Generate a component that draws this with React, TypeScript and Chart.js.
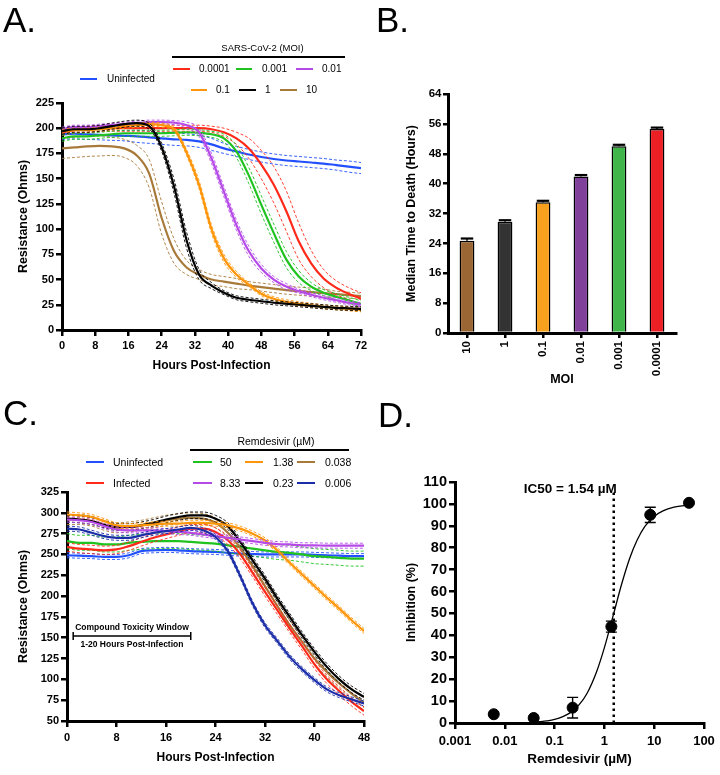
import React, { useEffect, useRef } from 'react';
import { Chart, registerables } from 'chart.js';

Chart.register(...registerables);

const FONT = '"Liberation Sans", Arial, Helvetica, sans-serif';

// ---------------- Panel A data (Resistance vs hours, MOI series) ----------------
const A_HOURS = [0, 3, 6, 9, 12, 15, 18, 21, 24, 27, 30, 33, 36, 39, 42, 45, 48, 51, 54, 57, 60, 63, 66, 69, 72];
const A_UNINF = [194, 194.5, 194, 193.5, 193, 192.5, 192, 191, 190, 189, 188.5, 187, 184, 180, 177, 174, 171.5, 169.5, 168, 167, 166, 165, 163.5, 162, 160.5];
const A_UNINF_SD = [5, 5, 5, 5, 5, 5, 6, 6, 6, 6, 6, 6, 6, 5, 5, 5, 5, 5, 5, 5, 5, 5, 5, 5.5, 5.5];
const A_MOI_0001 = [196, 198, 199, 199.5, 200, 200, 200, 200, 200, 200, 200, 200, 199, 196, 190, 180, 164, 144, 118, 88, 66, 51, 42, 36, 31];
const A_MOI_0001_SD = [3, 3, 3, 3, 3, 3, 3, 3, 3, 3, 3, 3, 3, 4, 6, 10, 14, 18, 20, 18, 13, 9, 7, 6, 6];
const A_MOI_001 = [190, 192, 192, 193, 194, 195, 195, 195, 195, 195.5, 196, 195.5, 194, 190, 177, 153, 124, 96, 70, 53, 43, 37, 33, 29.5, 26];
const A_MOI_001_SD = [3, 3, 3, 3, 3, 3, 3, 3, 3, 3, 3, 3, 3, 4, 6, 8, 9, 9, 8, 6, 4, 3, 3, 3, 3];
const A_MOI_01 = [199, 201, 201, 202, 203, 204, 205, 206, 206, 205.5, 203, 196, 170, 137, 104, 78, 61, 50, 43, 38.5, 35, 32, 29.5, 27, 25];
const A_MOI_01_SD = [2, 2, 2, 2, 2, 2, 2, 2, 2, 2, 3, 4, 5, 5, 5, 5, 4, 3, 3, 2, 2, 2, 2, 2, 2];
const A_MOI_1E1 = [197, 198, 198, 199, 200, 202, 203, 204, 203, 199, 176, 144, 100, 71, 55, 45, 36, 31, 28, 26, 24.5, 23, 22, 21, 20];
const A_MOI_1E1_SD = [2, 2, 2, 2, 2, 2, 2, 2, 2, 2, 3, 4, 4, 4, 3, 2, 2, 2, 2, 2, 2, 2, 2, 2, 2];
const A_MOI_1 = [197, 199, 199, 200, 202, 204, 205, 202, 181, 142, 89, 55, 44, 37, 32, 30, 28.5, 27, 26, 25, 24, 23, 22, 21.5, 21];
const A_MOI_1_SD = [3, 3, 3, 3, 3, 3, 3, 3, 4, 7, 8, 5, 3, 2, 2, 2, 2, 2, 2, 2, 2, 2, 2, 2, 2];
const A_MOI_10 = [180, 181, 182, 182.5, 182, 180, 173, 155, 111, 78, 62, 55, 50, 48, 46, 44, 42.5, 41, 39.5, 38.5, 37.5, 36.5, 35.5, 34.5, 33.5];
const A_MOI_10_SD = [10, 10, 10, 10, 9, 9, 10, 14, 16, 12, 7, 5, 5, 5, 5, 4, 4, 4, 4, 4, 4, 4, 3, 3, 3];

const COL_BLUE = '#2350ff';
const COL_RED = '#ff2a1a';
const COL_GREEN = '#1fc21f';
const COL_PURPLE = '#b64ae8';
const COL_ORANGE = '#ff9508';
const COL_BLACK = '#000000';
const COL_BROWN = '#a87a3a';
const COL_NAVY = '#1b2ea8';

// ---------------- Panel B data ----------------
const B_MOI = ['10', '1', '0.1', '0.01', '0.001', '0.0001'];
const B_MTD = [24.7, 29.8, 35.0, 41.9, 50.0, 54.6];
const B_ERR = [0.6, 0.4, 0.4, 0.4, 0.4, 0.4];
const B_COLORS = ['#9a6633', '#333333', '#f7a11e', '#7f4199', '#40b64a', '#eb1f24'];

// ---------------- Panel C data (Remdesivir series) ----------------
const C_HOURS = [0, 2, 4, 6, 8, 10, 12, 14, 16, 18, 20, 22, 24, 26, 28, 30, 32, 34, 36, 38, 40, 42, 44, 46, 48];
const C_UNINF = [249, 248.5, 248, 247, 247, 249, 254, 255, 255.5, 255, 254, 253.5, 253, 252, 251, 250.5, 250, 250, 250, 250, 249.5, 249, 248.5, 248, 248];
const C_INF = [259, 257, 256, 255, 256, 260, 265, 270, 274, 278, 281, 281, 277, 267, 250, 228, 205, 183, 161, 140, 118, 100, 86, 73, 62];
const C_R50 = [266, 264, 264, 262, 262, 264, 265, 266, 266, 266, 265, 264, 263, 261, 259, 257, 255, 253, 252, 250, 248, 247, 246, 245, 245];
const C_R833 = [292, 291, 289, 284, 280, 279, 279, 279, 278, 277, 276, 274, 272, 270, 268, 266, 264, 262.5, 262, 261, 261, 260.5, 260.5, 260.5, 260.5];
const C_R138 = [298, 297, 295, 290, 285, 284, 285, 286, 287, 287, 288, 288, 287, 285, 281, 275, 267, 255, 240, 226, 212, 198, 185, 171, 158];
const C_R023 = [293, 292, 290, 286, 283, 283, 285, 288, 292, 295, 297, 297, 293, 284, 265, 243, 221, 197, 175, 153, 133, 115, 100, 88, 79];
const C_R0038 = [292, 292, 290, 285, 282, 283, 285, 288, 291, 293, 294, 293, 288, 276, 258, 236, 212, 188, 165, 145, 125, 109, 95, 83, 72];
const C_R0006 = [281, 280, 276, 272, 270, 270, 273, 276, 278, 280, 282, 279, 271, 254, 224, 191, 165, 146, 127, 112, 99, 88, 81, 76, 71];
const C_SD = [3, 5, 9, 3, 3, 4, 6, 3]; // uninf, inf, 50, 8.33, 1.38, 0.23, 0.038, 0.006
const C_TOX_WINDOW = [1, 20];
const C_TOX_LEVEL = 152;

// ---------------- Panel D data ----------------
const D_CONC = [0.006, 0.038, 0.23, 1.38, 8.33, 50];
const D_INHIB = [4, 2.3, 7, 44, 95, 100.5];
const D_ERR = [0, 0, 4.7, 2.5, 3.5, 0];
const D_FIT_X = [0.035, 0.05, 0.07, 0.1, 0.15, 0.2, 0.3, 0.45, 0.7, 1.0, 1.54, 2.2, 3.2, 4.5, 6.5, 10, 15, 25, 50];
const D_FIT_Y = [0.3, 0.6, 0.96, 1.6, 3.0, 4.5, 7.9, 13.6, 23.5, 34.4, 50, 63.1, 75.0, 83.3, 89.7, 94.3, 96.8, 98.5, 99.5];
const D_IC50 = 1.54;
const D_IC50_TOP = 106;
const D_XTICKS = [0.001, 0.01, 0.1, 1, 10, 100];

// ---------------- helpers ----------------
function bandSets(xs: number[], series: any[]) {
  const out: any[] = [];
  const mk = (ys: number[]) => xs.map((x, i) => ({ x, y: ys[i] }));
  series.forEach((s) => {
    const sd = (i: number) => (Array.isArray(s.sd) ? s.sd[i] : s.sd);
    const common = { pointRadius: 0, fill: false, cubicInterpolationMode: 'monotone', borderColor: s.color };
    out.push({ ...common, data: mk(s.mean), borderWidth: 2.2 });
    out.push({ ...common, data: mk(s.mean.map((v: number, i: number) => v + sd(i))), borderWidth: 0.9, borderDash: [3, 2] });
    out.push({ ...common, data: mk(s.mean.map((v: number, i: number) => v - sd(i))), borderWidth: 0.9, borderDash: [3, 2] });
  });
  return out;
}

const gridStyle = {
  display: true,
  drawOnChartArea: false,
  drawTicks: true,
  tickLength: 6,
  tickWidth: 2.5,
  tickColor: '#000',
  color: '#000',
  lineWidth: 2.5,
};
const borderStyle = { display: true, color: '#000', width: 3 };
const tickFont = (size: number) => ({ family: FONT, weight: 'bold' as const, size });
const titleFont = (size: number) => ({ family: FONT, weight: 'bold' as const, size });

function linAxis(o: any) {
  return {
    type: o.type || 'linear',
    min: o.min,
    max: o.max,
    afterFit: (s: any) => {
      if (o.h) s.height = o.h;
      if (o.w) s.width = o.w;
    },
    ticks: {
      stepSize: o.step,
      font: tickFont(o.tickSize),
      color: '#000',
      padding: o.tickPad,
      autoSkip: false,
      maxRotation: o.rot || 0,
      minRotation: o.rot || 0,
      ...(o.ticks || {}),
    },
    grid: { ...gridStyle, ...(o.grid || {}) },
    border: borderStyle,
    title: { display: true, text: o.title, font: titleFont(o.titleSize), color: '#000', padding: o.titlePad },
    ...(o.extra || {}),
  };
}

const baseOptions = (padding: any, scales: any) => ({
  responsive: false,
  maintainAspectRatio: false,
  animation: false,
  devicePixelRatio: 1,
  layout: { padding },
  plugins: { legend: { display: false }, tooltip: { enabled: false } },
  events: [],
  scales,
});

// ---------------- plugins ----------------
const bErrPlugin = {
  id: 'bErr',
  afterDatasetsDraw(chart: any) {
    const { ctx } = chart;
    const y = chart.scales.y;
    const meta = chart.getDatasetMeta(0);
    ctx.save();
    ctx.strokeStyle = '#000';
    ctx.lineWidth = 1.5;
    meta.data.forEach((el: any, i: number) => {
      const top = y.getPixelForValue(B_MTD[i] + B_ERR[i]);
      const mid = y.getPixelForValue(B_MTD[i]);
      const half = el.width * 0.42;
      ctx.beginPath();
      ctx.moveTo(el.x, mid);
      ctx.lineTo(el.x, top);
      ctx.stroke();
      ctx.lineWidth = 2.2;
      ctx.beginPath();
      ctx.moveTo(el.x - half, top);
      ctx.lineTo(el.x + half, top);
      ctx.stroke();
      ctx.lineWidth = 1.5;
    });
    ctx.restore();
  },
};

const cToxPlugin = {
  id: 'cTox',
  afterDatasetsDraw(chart: any) {
    const { ctx } = chart;
    const x = chart.scales.x;
    const y = chart.scales.y;
    const x1 = x.getPixelForValue(C_TOX_WINDOW[0]);
    const x2 = x.getPixelForValue(C_TOX_WINDOW[1]);
    const yy = y.getPixelForValue(C_TOX_LEVEL);
    ctx.save();
    ctx.strokeStyle = '#000';
    ctx.lineWidth = 1.5;
    ctx.beginPath();
    ctx.moveTo(x1, yy);
    ctx.lineTo(x2, yy);
    ctx.moveTo(x1, yy - 4);
    ctx.lineTo(x1, yy + 4);
    ctx.moveTo(x2, yy - 4);
    ctx.lineTo(x2, yy + 4);
    ctx.stroke();
    ctx.fillStyle = '#000';
    ctx.font = `bold 8.5px ${FONT}`;
    ctx.textAlign = 'center';
    ctx.textBaseline = 'middle';
    ctx.fillText('Compound Toxicity Window', (x1 + x2) / 2, yy - 8);
    ctx.fillText('1-20 Hours Post-Infection', (x1 + x2) / 2, yy + 8.5);
    ctx.restore();
  },
};

const dPlugin = {
  id: 'dExtra',
  beforeDatasetsDraw(chart: any) {
    const { ctx } = chart;
    const x = chart.scales.x;
    const y = chart.scales.y;
    ctx.save();
    ctx.strokeStyle = '#000';
    ctx.lineWidth = 1.4;
    D_CONC.forEach((c, i) => {
      if (!D_ERR[i]) return;
      const px = x.getPixelForValue(c);
      const t = y.getPixelForValue(D_INHIB[i] + D_ERR[i]);
      const b = y.getPixelForValue(D_INHIB[i] - D_ERR[i]);
      ctx.beginPath();
      ctx.moveTo(px, t);
      ctx.lineTo(px, b);
      ctx.moveTo(px - 5.5, t);
      ctx.lineTo(px + 5.5, t);
      ctx.moveTo(px - 5.5, b);
      ctx.lineTo(px + 5.5, b);
      ctx.stroke();
    });
    ctx.restore();
  },
  afterDatasetsDraw(chart: any) {
    const { ctx } = chart;
    const x = chart.scales.x;
    const y = chart.scales.y;
    ctx.save();
    ctx.fillStyle = '#000';
    ctx.font = `bold 13.5px ${FONT}`;
    ctx.textAlign = 'right';
    ctx.textBaseline = 'middle';
    ctx.fillText('IC50 = 1.54 µM', x.getPixelForValue(D_IC50) + 3, y.getPixelForValue(D_IC50_TOP + 0.5));
    ctx.restore();
  },
};

// ---------------- small HTML pieces ----------------
function Txt(p: { x: number; y: number; text: string; size: number; center?: boolean; bold?: boolean }) {
  return (
    <div
      style={{
        position: 'absolute',
        left: p.x,
        top: p.y - 7,
        lineHeight: '14px',
        height: 14,
        fontSize: p.size,
        fontFamily: FONT,
        fontWeight: p.bold ? 'bold' : 'normal',
        whiteSpace: 'nowrap',
        color: '#000',
        transform: p.center ? 'translateX(-50%)' : undefined,
      }}
    >
      {p.text}
    </div>
  );
}

function Item(p: { x1: number; x2: number; y: number; color: string; label: string; tx: number; size: number }) {
  return (
    <>
      <div style={{ position: 'absolute', left: p.x1, top: p.y - 1.25, width: p.x2 - p.x1, height: 2.5, background: p.color }} />
      <Txt x={p.tx} y={p.y} text={p.label} size={p.size} />
    </>
  );
}

function PanelLetter(p: { x: number; baseline: number; text: string }) {
  return (
    <div
      style={{
        position: 'absolute',
        left: p.x,
        top: p.baseline - 29.6,
        fontSize: 35,
        lineHeight: '35px',
        fontFamily: FONT,
        color: '#000',
      }}
    >
      {p.text}
    </div>
  );
}

export default function App() {
  const refA = useRef<HTMLCanvasElement>(null);
  const refB = useRef<HTMLCanvasElement>(null);
  const refC = useRef<HTMLCanvasElement>(null);
  const refD = useRef<HTMLCanvasElement>(null);

  useEffect(() => {
    Chart.defaults.font.family = FONT;
    const charts: any[] = [];

    // ---------- A ----------
    const aSeries = [
      { color: COL_BLACK, mean: A_MOI_1, sd: A_MOI_1_SD },
      { color: COL_ORANGE, mean: A_MOI_1E1, sd: A_MOI_1E1_SD },
      { color: COL_PURPLE, mean: A_MOI_01, sd: A_MOI_01_SD },
      { color: COL_GREEN, mean: A_MOI_001, sd: A_MOI_001_SD },
      { color: COL_RED, mean: A_MOI_0001, sd: A_MOI_0001_SD },
      { color: COL_BROWN, mean: A_MOI_10, sd: A_MOI_10_SD },
      { color: COL_BLUE, mean: A_UNINF, sd: A_UNINF_SD },
    ];
    charts.push(
      new Chart(refA.current as any, {
        type: 'line',
        data: { datasets: bandSets(A_HOURS, aSeries) },
        options: baseOptions(
          { left: 0, top: 103, right: 359, bottom: 395 },
          {
            x: linAxis({ min: 0, max: 72, step: 8, h: 50, tickSize: 11, tickPad: 3.5, title: 'Hours Post-Infection', titleSize: 12, titlePad: { top: 0, bottom: 6.8 } }),
            y: linAxis({ min: 0, max: 225, step: 25, w: 62, tickSize: 11, tickPad: 2, title: 'Resistance (Ohms)', titleSize: 12.5, titlePad: { top: 16.5, bottom: 0 } }),
          }
        ) as any,
      })
    );

    // ---------- B ----------
    charts.push(
      new Chart(refB.current as any, {
        type: 'bar',
        data: {
          labels: B_MOI,
          datasets: [
            {
              data: B_MTD,
              backgroundColor: B_COLORS,
              borderColor: '#000',
              borderWidth: 1.5,
              barPercentage: 0.39,
              categoryPercentage: 1,
            },
          ],
        },
        options: baseOptions(
          { left: 370, top: 94, right: 44, bottom: 380 },
          {
            x: linAxis({ type: 'category', h: 62, tickSize: 11.5, tickPad: 3, rot: 90, title: 'MOI', titleSize: 12.5, titlePad: { top: 0, bottom: 7.5 }, grid: { offset: false, tickLength: 5 }, extra: { offset: true } }),
            y: linAxis({ min: 0, max: 64, step: 8, w: 78, tickSize: 11.5, tickPad: 1.5, title: 'Median Time to Death (Hours)', titleSize: 12.5, titlePad: { top: 34, bottom: 0 }, grid: { tickLength: 5 } }),
          }
        ) as any,
        plugins: [bErrPlugin as any],
      })
    );

    // ---------- C ----------
    const cSeries = [
      { color: COL_NAVY, mean: C_R0006, sd: C_SD[7] },
      { color: COL_PURPLE, mean: C_R833, sd: C_SD[3] },
      { color: COL_ORANGE, mean: C_R138, sd: C_SD[4] },
      { color: COL_BLACK, mean: C_R023, sd: C_SD[5] },
      { color: COL_RED, mean: C_INF, sd: C_SD[1] },
      { color: COL_BROWN, mean: C_R0038, sd: C_SD[6] },
      { color: COL_GREEN, mean: C_R50, sd: C_SD[2] },
      { color: COL_BLUE, mean: C_UNINF, sd: C_SD[0] },
    ];
    charts.push(
      new Chart(refC.current as any, {
        type: 'line',
        data: { datasets: bandSets(C_HOURS, cSeries) },
        options: baseOptions(
          { left: 0, top: 492, right: 356, bottom: 5 },
          {
            x: linAxis({ min: 0, max: 48, step: 8, h: 49, tickSize: 11, tickPad: 4.4, title: 'Hours Post-Infection', titleSize: 12, titlePad: { top: 0, bottom: 4.8 } }),
            y: linAxis({ min: 50, max: 325, step: 25, w: 67, tickSize: 11, tickPad: 2, title: 'Resistance (Ohms)', titleSize: 12.5, titlePad: { top: 16.5, bottom: 0 } }),
          }
        ) as any,
        plugins: [cToxPlugin as any],
      })
    );

    // ---------- D ----------
    charts.push(
      new Chart(refD.current as any, {
        type: 'line',
        data: {
          datasets: [
            {
              data: D_CONC.map((c, i) => ({ x: c, y: D_INHIB[i] })),
              showLine: false,
              pointRadius: 5.5,
              pointBackgroundColor: '#000',
              pointBorderColor: '#000',
              borderColor: '#000',
              clip: false,
            },
            {
              data: D_FIT_X.map((c, i) => ({ x: c, y: D_FIT_Y[i] })),
              pointRadius: 0,
              borderColor: '#000',
              borderWidth: 1.3,
              cubicInterpolationMode: 'monotone',
              fill: false,
            },
            {
              data: [
                { x: D_IC50, y: 0 },
                { x: D_IC50, y: D_IC50_TOP },
              ],
              pointRadius: 0,
              borderColor: '#000',
              borderWidth: 2.5,
              borderDash: [2.5, 3.5],
              fill: false,
            },
          ],
        },
        options: baseOptions(
          { left: 380, top: 482, right: 16, bottom: 2 },
          {
            x: linAxis({
              type: 'logarithmic',
              min: 0.001,
              max: 100,
              h: 50,
              tickSize: 13,
              tickPad: 4.9,
              title: 'Remdesivir (µM)',
              titleSize: 13.5,
              titlePad: { top: 0, bottom: 5.5 },
              ticks: { callback: (v: any) => String(Number(v)) },
              extra: {
                afterBuildTicks: (s: any) => {
                  s.ticks = D_XTICKS.map((v) => ({ value: v, major: true }));
                },
              },
            }),
            y: linAxis({ min: 0, max: 110, step: 10, w: 75, tickSize: 14.5, tickPad: 2, title: 'Inhibition (%)', titleSize: 12.5, titlePad: { top: 24, bottom: 0 } }),
          }
        ) as any,
        plugins: [dPlugin as any],
      })
    );

    return () => charts.forEach((c) => c.destroy());
  }, []);

  const canvasStyle: React.CSSProperties = { position: 'absolute', left: 0, top: 0, width: 720, height: 775 };

  return (
    <div style={{ position: 'absolute', left: 0, top: 0, width: 720, height: 775, overflow: 'hidden', background: '#fff' }}>
      <canvas ref={refA} width={720} height={775} style={canvasStyle} />
      <canvas ref={refB} width={720} height={775} style={canvasStyle} />
      <canvas ref={refC} width={720} height={775} style={canvasStyle} />
      <canvas ref={refD} width={720} height={775} style={canvasStyle} />

      <PanelLetter x={3} baseline={32} text="A." />
      <PanelLetter x={376} baseline={32} text="B." />
      <PanelLetter x={3} baseline={425} text="C." />
      <PanelLetter x={378} baseline={427} text="D." />

      {/* Panel A legend */}
      <Txt x={262.5} y={48} text="SARS-CoV-2 (MOI)" size={9.5} center />
      <div style={{ position: 'absolute', left: 172, top: 56, width: 173, height: 1.5, background: '#000' }} />
      <Item x1={80} x2={97} y={79} color={COL_BLUE} label="Uninfected" tx={107} size={10} />
      <Item x1={173} x2={190} y={69} color={COL_RED} label="0.0001" tx={199} size={10} />
      <Item x1={236} x2={252} y={69} color={COL_GREEN} label="0.001" tx={262} size={10} />
      <Item x1={296} x2={313} y={69} color={COL_PURPLE} label="0.01" tx={322} size={10} />
      <Item x1={191} x2={207} y={90} color={COL_ORANGE} label="0.1" tx={216} size={10} />
      <Item x1={239} x2={256} y={90} color={COL_BLACK} label="1" tx={265} size={10} />
      <Item x1={280} x2={297} y={90} color={COL_BROWN} label="10" tx={306} size={10} />

      {/* Panel C legend */}
      <Txt x={276} y={441} text="Remdesivir (µM)" size={10.5} center />
      <div style={{ position: 'absolute', left: 190, top: 449, width: 159, height: 1.5, background: '#000' }} />
      <Item x1={86} x2={104} y={462} color={COL_BLUE} label="Uninfected" tx={113} size={10.5} />
      <Item x1={86} x2={104} y={483} color={COL_RED} label="Infected" tx={113} size={10.5} />
      <Item x1={193} x2={212} y={462} color={COL_GREEN} label="50" tx={220} size={10.5} />
      <Item x1={193} x2={212} y={483} color={COL_PURPLE} label="8.33" tx={220} size={10.5} />
      <Item x1={245} x2={263} y={462} color={COL_ORANGE} label="1.38" tx={273} size={10.5} />
      <Item x1={245} x2={263} y={483} color={COL_BLACK} label="0.23" tx={273} size={10.5} />
      <Item x1={297} x2={315} y={462} color={COL_BROWN} label="0.038" tx={325} size={10.5} />
      <Item x1={297} x2={315} y={483} color={COL_NAVY} label="0.006" tx={325} size={10.5} />
    </div>
  );
}
